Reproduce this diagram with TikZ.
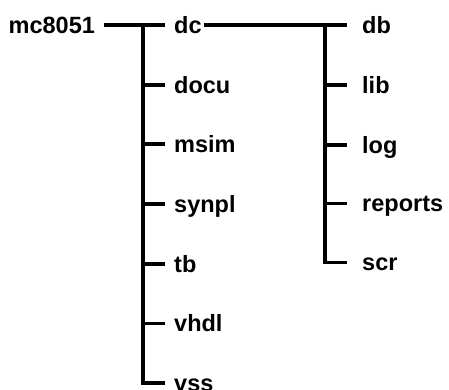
\documentclass[tikz,border=0pt]{standalone}
\usepackage{fontspec}
\setmainfont{Liberation Sans}
\usetikzlibrary{positioning}

\begin{document}
\begin{tikzpicture}[
                x=1pt, y=1pt,
                line join=miter,
                dirnode/.style={anchor=west, inner xsep=9pt, inner ysep=0pt, text height=16.8pt, text depth=0pt,
                                font=\bfseries\fontsize{23.5}{26}\selectfont},
                subdirnode/.style={dirnode, inner xsep=15pt},
                treeline/.style={line width=3.8pt}
                ]
                \useasboundingbox (0pt, 0pt) rectangle (449pt, -390pt);

                %% Root and first level
                \node[dirnode] (mc) at (-0.5pt, -25pt) {mc8051};
                \node[dirnode] (dc) at (165pt, -25pt) {dc};
                \node[dirnode, below=59.7pt of dc.west, anchor=west] (docu) {docu};
                \node[dirnode, below=59.7pt of docu.west, anchor=west] (msim) {msim};
                \node[dirnode, below=59.7pt of msim.west, anchor=west] (synpl) {synpl};
                \node[dirnode, below=59.7pt of synpl.west, anchor=west] (tb) {tb};
                \node[dirnode, below=59.7pt of tb.west, anchor=west] (vhdl) {vhdl};
                \node[dirnode, below=59.7pt of vhdl.west, anchor=west] (vss) {vss};

                %% Second level under dc
                \node[subdirnode] (db) at (347pt, -25pt) {db};
                \node[subdirnode, below=60pt of db.west, anchor=west] (lib) {lib};
                \node[subdirnode, below=60pt of lib.west, anchor=west] (log) {log};
                \node[subdirnode, below=58.5pt of log.west, anchor=west] (reports) {reports};
                \node[subdirnode, below=59pt of reports.west, anchor=west] (scr) {scr};

                %% Trunks
                \coordinate (trunkA) at (143pt, -25pt);
                \coordinate (trunkB) at (325pt, -25pt);

                % Lines
                \draw[treeline] (mc.east) -- (dc.west);
                \draw[treeline] (trunkA) |- (vss.west);
                \foreach \d in {docu, msim, synpl, tb, vhdl}
                    \draw[treeline] (trunkA |- \d.west) -- (\d.west);

                \draw[treeline, shorten <=-7pt] (dc.east) -- (db.west);
                \draw[treeline] (trunkB) |- (scr.west);
                \foreach \d in {lib, log, reports}
                    \draw[treeline] (trunkB |- \d.west) -- (\d.west);
\end{tikzpicture}
\end{document}
